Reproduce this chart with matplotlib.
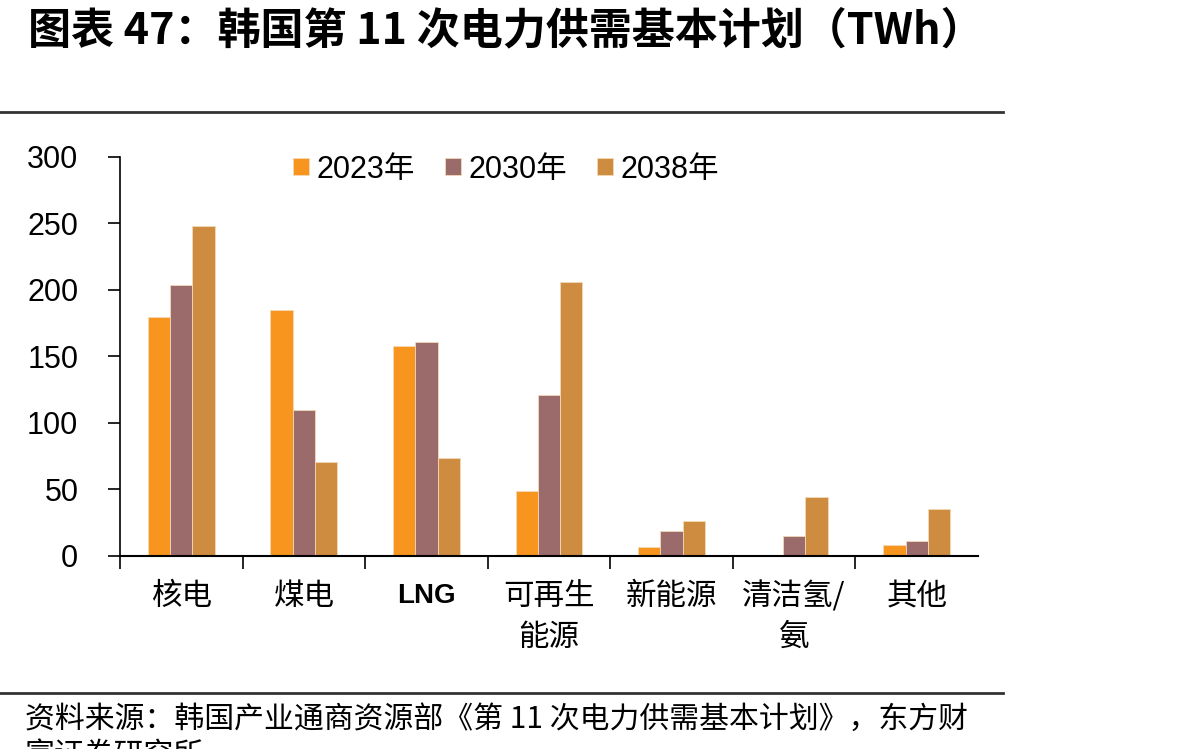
import matplotlib
matplotlib.use("Agg")
import matplotlib.pyplot as plt
import numpy as np

plt.rcParams['font.family'] = ['Liberation Sans', 'Noto Sans CJK SC', 'DejaVu Sans']

categories = ["核电", "煤电", "LNG", "可再生\n能源", "新能源", "清洁氢/\n氨", "其他"]
years = ["2023年", "2030年", "2038年"]
v2023 = [180, 185, 158, 49, 7, 0, 8]
v2030 = [204, 110, 161, 121, 19, 15, 11]
v2038 = [248, 71, 74, 206, 26, 44, 35]
colors = ["#F7951F", "#9B6A6A", "#CE8C40"]

title = "图表 47：韩国第 11 次电力供需基本计划（TWh）"
source1 = "资料来源：韩国产业通商资源部《第 11 次电力供需基本计划》，东方财"
source2 = "富证券研究所"

fig = plt.figure(figsize=(11.92, 7.49), dpi=100)
ax = fig.add_axes([0.1007, 0.2577, 0.7198, 0.5327])

x = np.arange(len(categories))
w = 0.182
for i, (vals, c, lab) in enumerate(zip([v2023, v2030, v2038], colors, years)):
    ax.bar(x + (i - 1) * w, vals, width=w, color=c, label=lab,
           edgecolor="#F3D9B8", linewidth=0.6)

ax.set_xlim(-0.5, len(categories) - 0.5)
ax.set_ylim(0, 300)
ax.set_yticks([0, 50, 100, 150, 200, 250, 300])
ax.tick_params(axis='y', labelsize=22, length=9, width=1.2, pad=21)
for s in ['top', 'right']:
    ax.spines[s].set_visible(False)
ax.spines['left'].set_linewidth(1.2)
ax.spines['bottom'].set_linewidth(1.5)

ax.set_xticks(x)
ax.set_xticklabels([])
ax.tick_params(axis='x', which='major', length=0)
ax.set_xticks(np.arange(len(categories)) - 0.5, minor=True)
ax.tick_params(axis='x', which='minor', length=9, width=1.2)

for xi, cat in zip(x, categories):
    if cat == "LNG":
        ax.text(xi, -20, cat, ha='center', va='top', fontsize=20, fontweight='bold',
                family=['Liberation Sans Narrow', 'Liberation Sans'])
    else:
        ax.text(xi, -19, cat, ha='center', va='top', fontsize=22,
                family=['Noto Sans CJK SC', 'DejaVu Sans'], linespacing=1.4)

leg = ax.legend(loc='upper center', bbox_to_anchor=(0.45, 1.075), ncol=3, frameon=False,
                prop={'family': ['Liberation Sans', 'Noto Sans CJK SC'], 'size': 22},
                handlelength=0.5, handleheight=0.5, handletextpad=0.25,
                columnspacing=1.0)

fig.text(28 / 1192, 1 - 30 / 749, title, ha='left', va='center',
         fontsize=31, fontweight='bold', family=['Noto Sans CJK SC', 'DejaVu Sans'])

fig.add_artist(plt.Line2D([0, 1003 / 1192], [1 - 112 / 749] * 2, color='#333333', lw=2))
fig.add_artist(plt.Line2D([0, 1003 / 1192], [1 - 693 / 749] * 2, color='#333333', lw=2))

fig.text(25 / 1192, 1 - 719 / 749, source1, ha='left', va='center', fontsize=21.5,
         family=['Noto Sans CJK SC', 'DejaVu Sans'])
fig.text(25 / 1192, 1 - 756 / 749, source2, ha='left', va='center', fontsize=21.5,
         family=['Noto Sans CJK SC', 'DejaVu Sans'])

fig.savefig("out.png", dpi=100)
